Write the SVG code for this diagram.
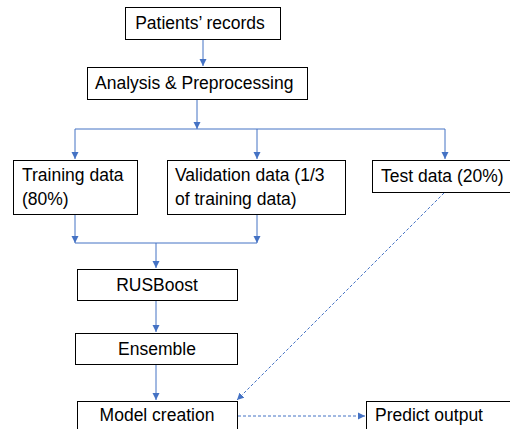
<svg xmlns="http://www.w3.org/2000/svg" width="510" height="429" viewBox="0 0 510 429">
<defs>
<style>
.box{fill:#fff;stroke:#000;stroke-width:1}
.t{font-family:"Liberation Sans",Arial,sans-serif;font-size:17.5px;fill:#000}
.c{stroke:#4472C4;stroke-width:1;fill:none}
.d{stroke:#4472C4;stroke-width:1;fill:none;stroke-dasharray:3,2}
</style>
<marker id="a" markerWidth="8" markerHeight="8" refX="7" refY="4" orient="auto" markerUnits="userSpaceOnUse">
<path d="M0,0.5 L7,4 L0,7.5 Z" fill="#4472C4"/>
</marker>
</defs>
<rect width="510" height="429" fill="#fff"/>
<g id="connectors">
<line class="c" x1="203" y1="39" x2="203" y2="66" marker-end="url(#a)"/>
<line class="c" x1="197" y1="99" x2="197" y2="129" marker-end="url(#a)"/>
<line class="c" x1="75" y1="129" x2="445" y2="129"/>
<line class="c" x1="75" y1="129" x2="75" y2="159" marker-end="url(#a)"/>
<line class="c" x1="257" y1="129" x2="257" y2="159" marker-end="url(#a)"/>
<line class="c" x1="445" y1="129" x2="445" y2="159" marker-end="url(#a)"/>
<line class="c" x1="75" y1="214" x2="75" y2="243" marker-end="url(#a)"/>
<line class="c" x1="257" y1="214" x2="257" y2="243" marker-end="url(#a)"/>
<line class="c" x1="75" y1="243" x2="257" y2="243"/>
<line class="c" x1="156" y1="243" x2="156" y2="268" marker-end="url(#a)"/>
<line class="c" x1="156" y1="300" x2="156" y2="332" marker-end="url(#a)"/>
<line class="c" x1="156" y1="364" x2="156" y2="400" marker-end="url(#a)"/>
<line class="d" x1="444" y1="193" x2="237" y2="400" marker-end="url(#a)"/>
<line class="d" x1="238" y1="416" x2="365" y2="416" marker-end="url(#a)"/>
</g>
<g id="patients"><rect class="box" x="125.5" y="7.5" width="155" height="32"/><text class="t" x="200" y="29" text-anchor="middle">Patients’ records</text></g>
<g id="analysis"><rect class="box" x="87.5" y="67.5" width="220" height="32"/><text class="t" x="95" y="89">Analysis &amp; Preprocessing</text></g>
<g id="training"><rect class="box" x="13.5" y="160.5" width="124" height="54"/><text class="t" x="22" y="181">Training data</text><text class="t" x="22" y="205">(80%)</text></g>
<g id="validation"><rect class="box" x="167.5" y="160.5" width="178" height="54"/><text class="t" x="175" y="181">Validation data (1/3</text><text class="t" x="175" y="205">of training data)</text></g>
<g id="test"><rect class="box" x="372.5" y="160.5" width="140" height="32"/><text class="t" x="381" y="182">Test data (20%)</text></g>
<g id="rusboost"><rect class="box" x="77.5" y="269.5" width="160" height="31"/><text class="t" x="157" y="291" text-anchor="middle">RUSBoost</text></g>
<g id="ensemble"><rect class="box" x="75.5" y="333.5" width="162" height="31"/><text class="t" x="157" y="355" text-anchor="middle">Ensemble</text></g>
<g id="model"><rect class="box" x="77.5" y="401.5" width="160" height="32"/><text class="t" x="157" y="421" text-anchor="middle">Model creation</text></g>
<g id="predict"><rect class="box" x="366.5" y="401.5" width="150" height="32"/><text class="t" x="375" y="421">Predict output</text></g>
</svg>
